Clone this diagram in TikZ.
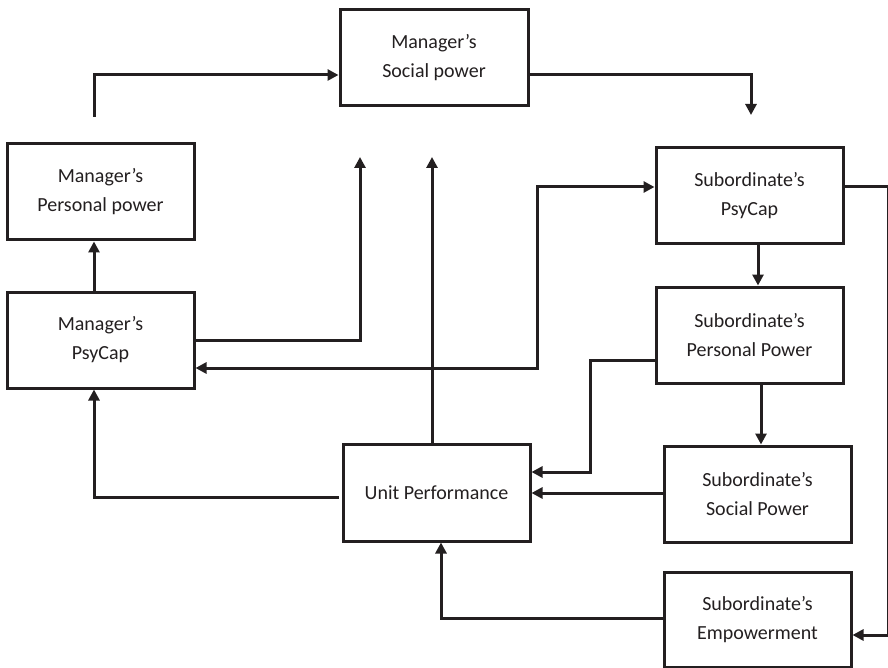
\documentclass[tikz,border=0pt]{standalone}
\usepackage{fontspec}
\setmainfont{Carlito}
\usetikzlibrary{arrows.meta}
\definecolor{ink}{HTML}{231F20}
\tikzset{
  box/.style={draw=ink, line width=3pt, minimum width=187pt, minimum height=96pt,
    align=center, font=\fontsize{20}{29}\selectfont, text=ink, inner sep=0pt},
  arr/.style={draw=ink, line width=3pt, -{Triangle[length=11pt,width=11pt]}},
  dbl/.style={draw=ink, line width=3pt, {Triangle[length=11pt,width=11pt]}-{Triangle[length=11pt,width=11pt]}}
}
\begin{document}
\begin{tikzpicture}[x=1pt,y=-1pt]
\useasboundingbox (0,0) rectangle (888,668);
\node[box, minimum width=188pt] (msp) at (434,58) {Manager’s\\Social power};
\node[box] (mpp) at (100.5,192) {Manager’s\\Personal power};
\node[box] (mpc) at (100.5,340) {Manager’s\\PsyCap};
\node[box, minimum height=97pt] (up) at (436.5,492.5) {Unit Performance};
\node[box] (spc) at (749.5,196) {Subordinate’s\\PsyCap};
\node[box] (spp) at (749.5,335) {Subordinate’s\\Personal Power};
\node[box] (ssp) at (757.5,494) {Subordinate’s\\Social Power};
\node[box, minimum height=95pt] (semp) at (757.5,619.5) {Subordinate’s\\Empowerment};

% top connectors
\coordinate (f1) at (94,117);
\draw[arr] (f1) |- ([yshift=-17pt]msp.west);
\coordinate (f2) at (751,115);
\draw[arr] ([yshift=-17pt]msp.east) -| (f2);
\coordinate (f3) at (360,157);
\draw[arr] (mpc.east) -| (f3);
\coordinate (f4) at (432,157);
\draw[arr] (f4 |- up.north) -- (f4);

% manager side
\draw[arr] ([xshift=-6.5pt]mpc.north) -- ([xshift=-6.5pt]mpp.south);
\coordinate (k5) at (537,368);
\draw[dbl] ([yshift=-28pt]mpc.east) -- (k5) |- ([yshift=9pt]spc.west);
\coordinate (c11) at ([xshift=-6.5pt]mpc.south);
\draw[arr] ([yshift=-4.5pt, xshift=-3pt]up.west) -| (c11);

% subordinate side
\draw[arr] ([xshift=8.5pt]spc.south) -- ([xshift=8.5pt]spp.north);
\draw[arr] ([yshift=9pt]spc.east) -- ++(44,0) |- ([yshift=-15.5pt]semp.east);
\draw[arr] ([yshift=-25pt]spp.west) -- ++(-64,0) |- ([yshift=20.5pt]up.east);
\coordinate (c9) at ([xshift=11.5pt]spp.south);
\draw[arr] (c9) -- (c9 |- ssp.north);
\draw[arr] ([yshift=1pt]ssp.west) -- (up.east |- 0,493);
\coordinate (c12) at ([xshift=4.5pt]up.south);
\draw[arr] ([yshift=1.5pt]semp.west) -| (c12);
\end{tikzpicture}
\end{document}
